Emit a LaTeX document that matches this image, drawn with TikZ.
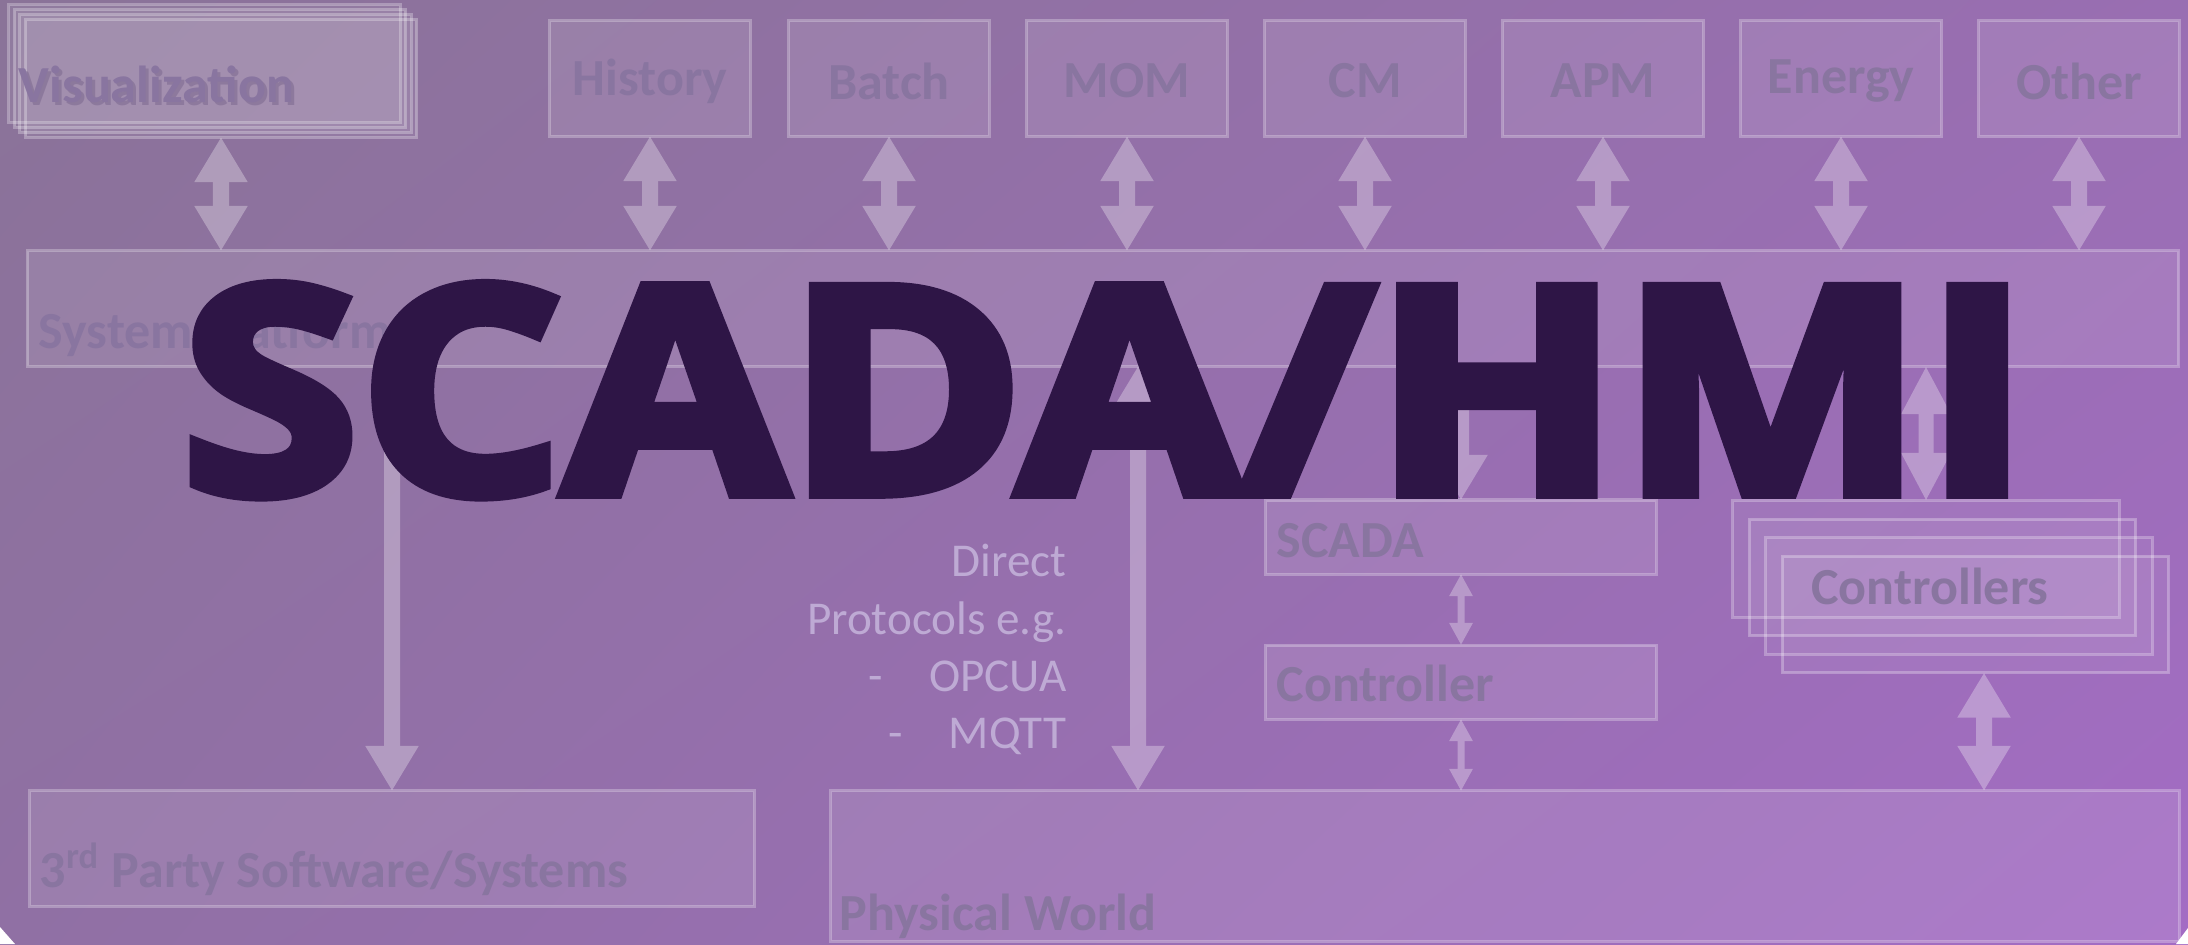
\documentclass[tikz,border=0pt]{standalone}
\usepackage{fontspec}
\setmainfont{Carlito}
\newfontfamily\titlefont{Open Sans}[BoldFeatures={FakeBold=4}]
\usetikzlibrary{arrows.meta,shadings}
\definecolor{bgUL}{RGB}{138,115,152}
\definecolor{bgUR}{RGB}{153,110,178}
\definecolor{bgLL}{RGB}{144,112,164}
\definecolor{bgLR}{RGB}{163,108,196}
\definecolor{lblc}{RGB}{137,117,160}
\definecolor{lblshadow}{RGB}{120,100,140}
\definecolor{dirc}{RGB}{190,170,212}
\definecolor{titlec}{RGB}{46,21,70}
\tikzset{
  box/.style={draw=white, draw opacity=0.28, fill=white, fill opacity=0.1, text opacity=1,
              line width=0.03cm, inner sep=0pt, outer sep=0pt, rectangle},
  stackbox/.style={box, fill opacity=0.06},
  lbl/.style={font=\bfseries\fontsize{14.8pt}{16pt}\selectfont, text=lblc, inner sep=0pt},
  dirtext/.style={font=\fontsize{13.4pt}{16pt}\selectfont, text=dirc, inner sep=0pt, anchor=base east},
  bigtip/.tip={Triangle[width=0.5cm,length=0.45cm]},
  midtip/.tip={Triangle[width=0.46cm,length=0.48cm]},
  smalltip/.tip={Triangle[width=0.22cm,length=0.22cm]},
  bigdbl/.style={draw=white, line width=0.16cm, bigtip-bigtip},
  bigdown/.style={draw=white, line width=0.16cm, -bigtip},
  middbl/.style={draw=white, line width=0.15cm, midtip-midtip},
  smalldbl/.style={draw=white, line width=0.07cm, smalltip-smalltip},
  agroup/.style={transparency group, opacity=0.3}
}
\begin{document}
\begin{tikzpicture}[x=0.01cm, y=-0.01cm]
\shade[upper left=bgUL, upper right=bgUR, lower left=bgLL, lower right=bgLR] (0,0) rectangle (2188,944);
\useasboundingbox (0,0) rectangle (2188,944);

% Visualization stack
\foreach \k/\nm in {0/visA,1/visB,2/visC,3/visD}{
  \node[stackbox, minimum width=3.91cm, minimum height=1.17cm] (\nm) at ({204.5+5.5*\k},{63.5+5*\k}) {};
}
\node[lbl, anchor=base west, text=lblshadow, opacity=0.5] (visshadow) at (21,105) {Visualization};
\node[lbl, anchor=base west] (vislbl) at (18,102) {Visualization};

% top module boxes
\foreach \cx/\nm/\txt in {650/hist/History, 889/batch/Batch, 1127/mom/MOM, 1365/cm/CM, 1603/apm/APM, 1841/energy/Energy, 2079/other/Other}{
  \node[box, minimum width=2.0cm, minimum height=1.15cm] (\nm) at (\cx,78.5) {};
  \node[lbl] (\nm lbl) at (\cx,81) {\txt};
}

% System Platform
\node[box, minimum width=21.5cm, minimum height=1.15cm] (plat) at (1103,308.5) {};
\node[lbl, anchor=base west] (platlbl) at (38,348) {System Platform};

% 3rd party
\node[box, minimum width=7.24cm, minimum height=1.15cm] (third) at (392,848.5) {};
\node[lbl, anchor=base west] (thirdlbl) at (39,887) {3\textsuperscript{rd} Party Software/Systems};

% Physical world
\node[box, minimum width=13.48cm, minimum height=1.50cm] (phys) at (1505,866) {};
\node[lbl, anchor=base west] (physlbl) at (839,930) {Physical World};

% SCADA and Controller
\node[box, minimum width=3.9cm, minimum height=0.74cm] (scada) at (1461,537) {};
\node[lbl, anchor=base west] (scadalbl) at (1276,557) {SCADA};
\node[box, minimum width=3.9cm, minimum height=0.74cm] (ctrl) at (1461,682) {};
\node[lbl, anchor=base west] (ctrllbl) at (1276,701) {Controller};

% Controllers stack
\foreach \k/\nm in {0/ctrA,1/ctrB,2/ctrC,3/ctrD}{
  \node[stackbox, minimum width=3.86cm, minimum height=1.16cm] (\nm) at ({1926+16.5*\k},{559+18.5*\k}) {};
}
\node[lbl] (ctrslbl) at (1930,586) {Controllers};

% coordinates for free-standing arrow positions
\coordinate (dx) at (1138,0);
\coordinate (cx) at (1984,0);

% arrows
\begin{scope}[agroup]
  \draw[bigdbl] (visD.south) -- (visD.south |- plat.north);
\end{scope}
\foreach \nm in {hist,batch,mom,cm,apm,energy,other}{
  \begin{scope}[agroup]
    \draw[bigdbl] (\nm.south) -- (\nm.south |- plat.north);
  \end{scope}
}
\begin{scope}[agroup]
  \draw[bigdown] (third.north |- plat.south) -- (third.north);
\end{scope}
\begin{scope}[agroup]
  \draw[bigdbl] (dx |- plat.south) -- (dx |- phys.north);
\end{scope}
\begin{scope}[agroup]
  \draw[bigdown] (scada.north |- plat.south) -- (scada.north);
\end{scope}
\begin{scope}[agroup]
  \draw[middbl] (ctrA.north |- plat.south) -- (ctrA.north);
\end{scope}
\begin{scope}[agroup]
  \draw[bigdbl] (cx |- ctrD.south) -- (cx |- phys.north);
\end{scope}
\begin{scope}[agroup]
  \draw[smalldbl] (scada.south) -- (ctrl.north);
\end{scope}
\begin{scope}[agroup]
  \draw[smalldbl] (ctrl.south) -- (ctrl.south |- phys.north);
\end{scope}

% Direct protocols text
\node[dirtext] (d1) at (1067,576) {Direct};
\node[dirtext] (d2) at (1067,634) {Protocols e.g.};
\node[dirtext] (d3) at (1067,691) {OPCUA};
\node[dirtext, anchor=base] (d3dash) at (876,691) {-};
\node[dirtext] (d4) at (1067,748) {MQTT};
\node[dirtext, anchor=base] (d4dash) at (896,748) {-};

% Title
\node[font=\titlefont\bfseries\fontsize{81.8pt}{90pt}\selectfont, text=titlec, inner sep=0pt, anchor=base, xscale=1.12] (title) at (1106,493) {SCADA/HMI};

% white corner slivers
\fill[white] (0,927) -- (0,944) -- (15,944) -- cycle;
\fill[white] (2188,928) -- (2188,944) -- (2176,944) -- cycle;
\end{tikzpicture}
\end{document}
